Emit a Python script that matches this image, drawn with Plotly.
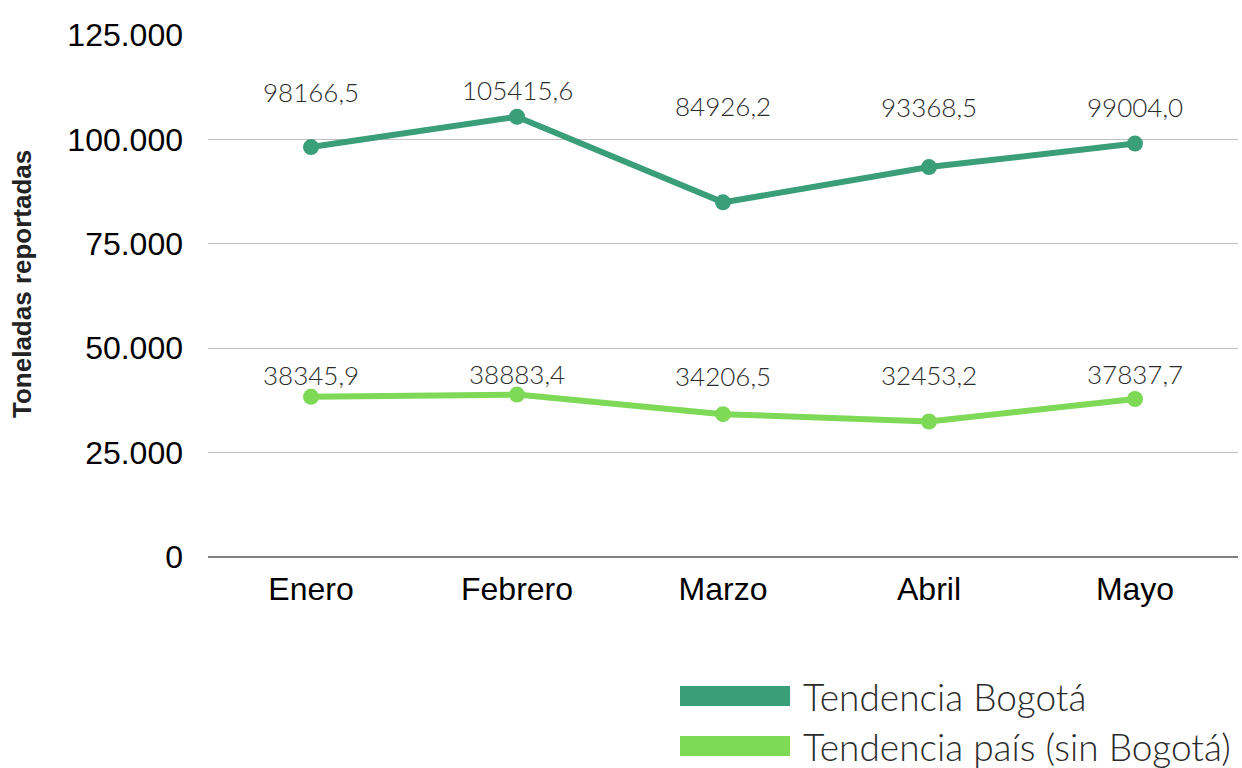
import plotly.graph_objects as go

months = ["Enero", "Febrero", "Marzo", "Abril", "Mayo"]
bogota = [98166.5, 105415.6, 84926.2, 93368.5, 99004.0]
pais = [38345.9, 38883.4, 34206.5, 32453.2, 37837.7]
series_names = ["Tendencia Bogotá", "Tendencia país (sin Bogotá)"]
y_ticks = [0, 25000, 50000, 75000, 100000, 125000]

# label pixel offsets above each point (styling)
bogota_shift = [55, 27, 96, 60, 37]
pais_shift = [22, 21, 38, 46, 25]

c_bog = "#3a9e78"
c_pais = "#7ed957"

fig = go.Figure()
for vals, col, name in [(bogota, c_bog, series_names[0]), (pais, c_pais, series_names[1])]:
    fig.add_trace(go.Scatter(
        x=months, y=vals, mode="lines+markers", name=name,
        line=dict(color=col, width=6), marker=dict(color=col, size=16),
        showlegend=False,
    ))

annotations = []
for vals, shifts in [(bogota, bogota_shift), (pais, pais_shift)]:
    for m, v, s in zip(months, vals, shifts):
        annotations.append(dict(
            x=m, y=v, xref="x", yref="y", text=f"{v:.1f}".replace(".", ","),
            showarrow=False, yshift=s,
            font=dict(family="Lato", size=26, weight=300, color="#2b2b2b"),
        ))

# manual legend
shapes = []
for i, (col, name) in enumerate([(c_bog, series_names[0]), (c_pais, series_names[1])]):
    yc = 696 + i * 50
    shapes.append(dict(type="rect", xref="paper", yref="paper",
                       x0=(680 - 208) / 1030, x1=(790 - 208) / 1030,
                       y0=(557 - (yc + 10)) / 522, y1=(557 - (yc - 10)) / 522,
                       fillcolor=col, line=dict(width=0)))
    annotations.append(dict(xref="paper", yref="paper", x=(801 - 208) / 1030,
                            y=(557 - yc) / 522, xanchor="left", yanchor="middle",
                            text=name, showarrow=False,
                            font=dict(family="Lato", size=37, weight=300, color="#2b2b2b")))

annotations.append(dict(xref="paper", yref="paper", x=(22 - 208) / 1030, y=(557 - 284) / 522,
                        xanchor="center", yanchor="middle", textangle=-90, showarrow=False,
                        text="<b>Toneladas reportadas</b>",
                        font=dict(size=26, family="Liberation Sans", color="#222")))

fig.update_layout(
    width=1242, height=768, autosize=False,
    margin=dict(l=208, r=4, t=35, b=211),
    paper_bgcolor="white", plot_bgcolor="white",
    separators=",.",
    font=dict(family="Liberation Sans", color="black"),
    annotations=annotations, shapes=shapes,
    xaxis=dict(showgrid=False, showline=False, ticks="", automargin=False,
               range=[-0.5, 4.5], ticklabelstandoff=10,
               tickfont=dict(size=32, family="Liberation Sans", color="black")),
    yaxis=dict(range=[0, 125000], tickvals=y_ticks, tickformat=",d", automargin=False,
               showgrid=True, gridcolor="#c0c0c0", gridwidth=1.3,
               zeroline=True, zerolinecolor="#808080", zerolinewidth=1.5,
               showline=False, ticks="", ticklabelstandoff=24,
               tickfont=dict(size=32, family="Liberation Sans", color="black")),
)

post = ("document.body.style.margin='0px';document.body.style.overflow='hidden';"
        "var gd=document.getElementById('{plot_id}');"
        "Plotly.relayout(gd,{width:1242,height:768});")
fig.write_html("out.html", post_script=post,
               config={"responsive": False, "displayModeBar": False})
